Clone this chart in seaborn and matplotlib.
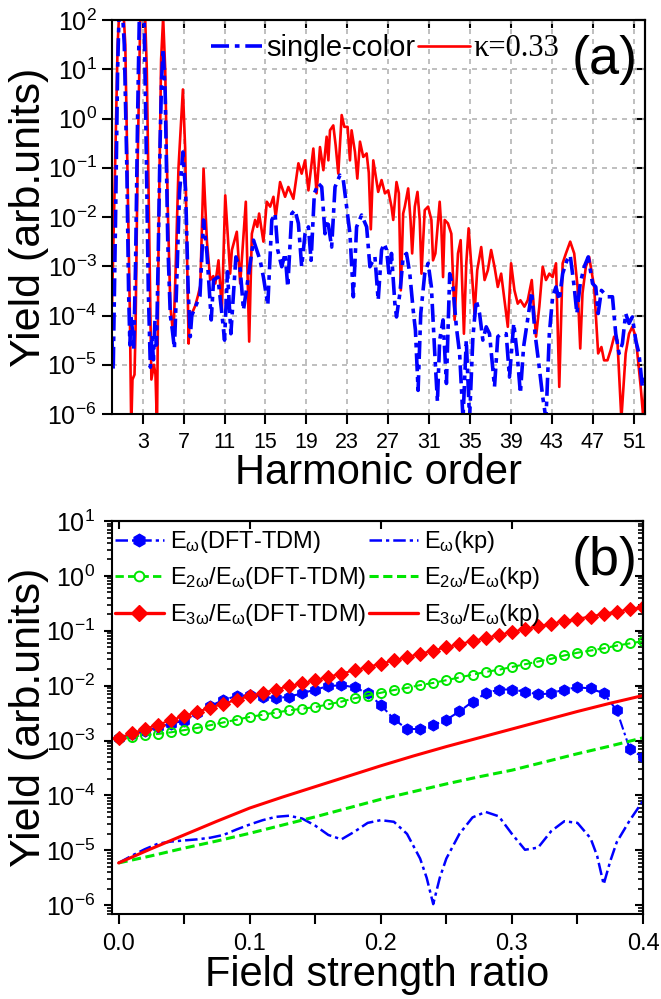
import numpy as np
import matplotlib
matplotlib.use("Agg")
import matplotlib.pyplot as plt
import seaborn as sns
from matplotlib.lines import Line2D
from matplotlib.ticker import LogLocator, NullLocator, NullFormatter, MultipleLocator, FormatStrFormatter

# ---- panel (a): harmonic spectra, (harmonic order, log10 yield)
single_color_pts = [
    (0.0, -4.5), (0.12, -5.1), (0.35, -2.0), (0.55, 1.0), (0.8, 3.0), (1.2, 1.5), (1.45, -1.0),
    (1.62, -3.5), (1.75, -4.6), (1.85, -4.0), (2.0, -4.3), (2.12, -4.7), (2.3, -3.0), (2.5, 0.0),
    (2.75, 3.0), (3.1, 2.5), (3.3, 0.0), (3.55, -3.5), (3.75, -5.05), (3.9, -4.4), (4.05, -4.9),
    (4.2, -4.1), (4.35, -4.6), (4.5, -3.0), (4.7, -0.5), (4.85, 0.8), (5.0, 1.42), (5.2, 0.5),
    (5.45, -2.5), (5.7, -4.0), (5.9, -4.3), (6.1, -4.67), (6.3, -3.5), (6.6, -1.5), (6.93, -0.68),
    (7.2, -1.5), (7.45, -3.5), (7.65, -4.43), (7.8, -4.0), (8.2, -3.8), (8.6, -3.6), (8.95, -2.06),
    (9.28, -2.74), (9.7, -4.09), (9.93, -3.28), (10.35, -3.22), (10.74, -3.96), (11.0, -4.5),
    (11.29, -3.11), (11.62, -4.37), (12.11, -2.81), (12.53, -3.05), (12.85, -3.89), (13.18, -3.42),
    (13.83, -2.47), (14.48, -2.88), (14.8, -3.22), (15.23, -3.79), (15.62, -2.06), (15.94, -1.93),
    (16.2, -2.67), (16.59, -3.01), (16.92, -2.74), (17.18, -3.42), (17.57, -1.93), (17.89, -1.86),
    (18.22, -2.13), (18.54, -3.01), (18.87, -2.34), (19.2, -2.2), (19.46, -2.88), (19.78, -1.52),
    (20.17, -1.32), (20.5, -1.39), (20.82, -2.34), (21.08, -2.06), (21.47, -2.61), (21.8, -1.39),
    (22.28, -1.15), (22.61, -1.25), (22.93, -1.79), (23.26, -2.34), (23.59, -3.62), (23.91, -2.2),
    (24.4, -1.96), (24.89, -2.2), (25.21, -3.01), (25.7, -2.81), (26.02, -3.69), (26.35, -2.67),
    (26.61, -2.54), (26.84, -2.67), (27.1, -3.22), (27.32, -2.74), (27.65, -3.76), (27.81, -4.03),
    (28.14, -3.55), (28.46, -2.81), (28.79, -2.74), (29.11, -3.15), (29.44, -3.89), (29.66, -4.3),
    (29.92, -5.52), (30.18, -3.96), (30.57, -3.15), (30.9, -2.94), (31.22, -3.42), (31.55, -4.77),
    (31.81, -5.75), (32.03, -4.5), (32.36, -4.09), (32.69, -5.38), (33.01, -3.15), (33.33, -3.42),
    (33.66, -4.23), (33.98, -4.77), (34.31, -6.1), (34.63, -4.5), (34.95, -6.1), (35.28, -4.43),
    (35.6, -3.69), (35.93, -3.96), (36.25, -4.5), (36.58, -4.23), (36.9, -4.37), (37.39, -5.45),
    (37.71, -4.43), (38.04, -4.37), (38.53, -4.37), (38.85, -5.25), (39.27, -4.16), (39.6, -4.77),
    (39.92, -5.58), (40.23, -4.64), (40.62, -4.09), (41.03, -3.52), (41.35, -4.37), (41.68, -4.91),
    (42.1, -5.65), (42.42, -6.1), (42.75, -4.37), (43.07, -3.62), (43.4, -3.42), (43.72, -3.69),
    (44.05, -3.15), (44.47, -2.88), (44.79, -2.78), (45.18, -3.42), (45.44, -3.96), (45.77, -3.35),
    (46.16, -3.01), (46.55, -2.81), (46.97, -3.35), (47.29, -3.42), (47.52, -3.96), (47.84, -3.49),
    (48.43, -3.62), (48.92, -3.62), (49.24, -4.37), (49.56, -4.77), (49.89, -4.57), (50.21, -3.96),
    (50.54, -4.16), (50.86, -4.03), (51.19, -4.5), (51.51, -4.77), (51.84, -5.45), (52.13, -5.25),
]

kappa_pts = [
    (0.0, -3.8), (0.3, -1.0), (0.55, 1.5), (0.9, 3.0), (1.3, 1.5), (1.55, -1.5), (1.75, -4.0),
    (1.88, -6.3), (2.0, -5.3), (2.2, -5.2), (2.3, -4.3), (2.5, -1.0), (2.8, 2.5), (3.1, 3.0),
    (3.4, 1.0), (3.65, -2.5), (3.85, -5.3), (4.1, -5.0), (4.25, -5.2), (4.4, -6.3), (4.55, -2.5),
    (4.8, 1.2), (5.0, 2.05), (5.2, 1.0), (5.45, -1.8), (5.7, -3.8), (6.0, -4.43), (6.2, -3.2),
    (6.5, -1.0), (6.93, 0.59), (7.15, -0.6), (7.35, -3.0), (7.49, -4.57), (7.6, -4.0), (7.81, -3.96),
    (8.14, -3.8), (8.4, -3.6), (8.63, -3.4), (8.95, -1.02), (9.28, -2.5), (9.6, -3.28), (9.9, -3.2),
    (10.1, -3.35), (10.41, -2.88), (10.74, -3.89), (11.07, -1.56), (11.35, -2.5), (11.55, -3.15),
    (11.72, -2.67), (12.2, -2.30), (12.53, -3.35), (13.08, -1.69), (13.41, -4.53), (13.67, -2.34),
    (13.99, -2.06), (14.2, -2.2), (14.38, -1.93), (14.8, -2.50), (15.13, -1.69), (15.46, -1.79),
    (15.78, -1.59), (16.0, -2.0), (16.43, -1.29), (16.92, -1.59), (17.24, -1.39), (17.73, -1.63),
    (18.06, -1.15), (18.22, -0.91), (18.54, -1.12), (18.87, -0.85), (19.2, -1.46), (19.68, -0.61),
    (20.0, -1.52), (20.33, -0.58), (20.66, -1.05), (20.98, -0.37), (21.15, -0.85), (21.31, -0.24),
    (21.63, -0.14), (21.86, -0.54), (22.12, -1.12), (22.45, 0.07), (22.71, -0.17), (23.03, -0.17),
    (23.26, -0.85), (23.42, -0.24), (23.75, -0.68), (23.98, -1.22), (24.24, -0.47), (24.56, -0.78),
    (24.89, -0.71), (25.1, -1.1), (25.3, -2.25), (25.54, -0.85), (26.02, -1.49), (26.35, -1.25),
    (26.68, -1.52), (27.0, -1.46), (27.32, -1.79), (27.49, -2.06), (27.81, -1.29), (28.04, -1.52),
    (28.23, -3.49), (28.46, -1.93), (28.62, -1.79), (28.95, -1.42), (29.18, -2.06), (29.34, -2.74),
    (29.6, -1.79), (29.86, -1.49), (30.08, -2.06), (30.25, -3.15), (30.57, -1.86), (30.9, -1.79),
    (31.22, -2.06), (31.38, -2.88), (31.61, -2.74), (32.03, -1.69), (32.19, -2.2), (32.36, -3.22),
    (32.52, -2.06), (32.84, -2.13), (33.17, -2.34), (33.49, -4.09), (33.82, -2.74), (34.08, -2.47),
    (34.4, -4.37), (34.63, -2.94), (34.86, -2.23), (35.18, -3.15), (35.44, -3.96), (35.7, -3.08),
    (36.09, -2.61), (36.42, -3.28), (36.74, -3.08), (37.06, -2.67), (37.39, -3.01), (37.71, -3.42),
    (38.04, -3.15), (38.36, -3.69), (38.69, -4.23), (39.01, -2.94), (39.34, -3.49), (39.66, -3.76),
    (39.92, -3.69), (40.31, -3.82), (40.64, -3.69), (41.03, -3.28), (41.45, -4.43), (41.77, -3.82),
    (42.1, -3.01), (42.42, -3.28), (42.75, -3.15), (43.07, -3.22), (43.4, -2.94), (43.72, -5.45),
    (44.05, -2.94), (44.37, -2.74), (44.79, -2.5), (45.18, -2.74), (45.51, -3.42), (45.77, -4.67),
    (45.99, -3.55), (46.32, -3.01), (46.64, -2.81), (47.13, -3.42), (47.52, -4.77), (47.84, -4.64),
    (48.1, -4.91), (48.43, -4.91), (48.75, -4.7), (49.08, -4.43), (49.4, -4.5), (49.79, -6.1),
    (50.21, -4.77), (50.54, -4.37), (50.86, -4.23), (51.19, -4.43), (51.68, -5.45), (51.94, -6.1),
    (52.13, -5.45),
]

harmonic_ticks = list(range(3, 52, 4))

# ---- panel (b): yields vs field strength ratio (log10 values)
ratio_dft = [round(0.01 * i, 2) for i in range(41)]
e1_dft = [-2.96, -2.88, -2.82, -2.76, -2.69, -2.64, -2.50, -2.37, -2.26, -2.19, -2.17,
          -2.20, -2.23, -2.20, -2.14, -2.07, -2.01, -1.99, -2.03, -2.14, -2.35, -2.61,
          -2.79, -2.79, -2.72, -2.62, -2.47, -2.29, -2.14, -2.07, -2.07, -2.11, -2.16,
          -2.14, -2.07, -2.03, -2.05, -2.14, -2.45, -3.16, -3.30]
e2_dft = [-2.96, -2.93, -2.90, -2.88, -2.85, -2.81, -2.77, -2.72, -2.67, -2.62, -2.57,
          -2.53, -2.49, -2.45, -2.42, -2.39, -2.34, -2.29, -2.23, -2.18, -2.13, -2.08,
          -2.04, -1.99, -1.95, -1.90, -1.85, -1.80, -1.75, -1.71, -1.66, -1.61, -1.56,
          -1.51, -1.45, -1.40, -1.36, -1.32, -1.27, -1.23, -1.19]
e3_dft = [-2.95, -2.87, -2.79, -2.71, -2.63, -2.55, -2.48, -2.40, -2.33, -2.26, -2.19,
          -2.13, -2.07, -2.01, -1.96, -1.90, -1.84, -1.78, -1.72, -1.66, -1.60, -1.54,
          -1.48, -1.42, -1.36, -1.30, -1.24, -1.19, -1.13, -1.08, -1.02, -0.97, -0.92,
          -0.87, -0.83, -0.78, -0.74, -0.69, -0.65, -0.61, -0.57]

ratio_e1_kp = [0.0, 0.01, 0.02, 0.03, 0.04, 0.05, 0.06, 0.07, 0.08, 0.09, 0.10, 0.11, 0.12,
               0.13, 0.14, 0.15, 0.16, 0.17, 0.18, 0.19, 0.20, 0.21, 0.22, 0.23, 0.235, 0.24,
               0.245, 0.25, 0.26, 0.27, 0.28, 0.29, 0.30, 0.31, 0.32, 0.33, 0.34, 0.35, 0.36,
               0.365, 0.37, 0.375, 0.38, 0.39, 0.40]
e1_kp = [-5.23, -5.10, -4.98, -4.88, -4.84, -4.82, -4.80, -4.77, -4.72, -4.62, -4.53, -4.45,
         -4.39, -4.37, -4.42, -4.55, -4.72, -4.80, -4.66, -4.50, -4.45, -4.48, -4.70, -5.15,
         -5.50, -5.98, -5.50, -5.15, -4.70, -4.40, -4.30, -4.38, -4.70, -4.99, -4.95, -4.65,
         -4.47, -4.50, -4.78, -5.10, -5.62, -5.20, -4.85, -4.45, -4.10]
ratio_kp = [0.0, 0.025, 0.05, 0.075, 0.1, 0.125, 0.15, 0.175, 0.2, 0.225, 0.25, 0.275, 0.3,
            0.325, 0.35, 0.375, 0.4]
e2_kp = [-5.23, -5.10, -4.96, -4.83, -4.69, -4.54, -4.39, -4.23, -4.07, -3.93, -3.79, -3.66,
         -3.54, -3.39, -3.24, -3.10, -2.95]
e3_kp = [-5.23, -4.97, -4.72, -4.47, -4.23, -4.03, -3.84, -3.65, -3.46, -3.28, -3.11, -2.95,
         -2.79, -2.63, -2.47, -2.32, -2.18]

BLUE = "#0000ff"
RED = "#ff0000"
GREEN = "#00e600"
DASHDOT = (0, (5, 1.6, 1.3, 1.6))

sns.set_theme(style="ticks")
plt.rcParams["font.family"] = ["Liberation Sans", "DejaVu Sans"]
plt.rcParams["mathtext.fontset"] = "custom"
plt.rcParams["mathtext.rm"] = "Liberation Sans"
plt.rcParams["mathtext.it"] = "Liberation Sans"
plt.rcParams["mathtext.bf"] = "Liberation Sans:bold"
plt.rcParams["axes.linewidth"] = 1.5
for key in ["text.color", "axes.labelcolor", "xtick.color", "ytick.color", "axes.edgecolor"]:
    plt.rcParams[key] = "black"

fig = plt.figure(figsize=(6.61, 9.99), dpi=100)
ax1 = fig.add_axes([112 / 661, 1 - 414 / 999, 533 / 661, 394 / 999])
ax2 = fig.add_axes([112 / 661, 1 - 914 / 999, 531 / 661, 393 / 999])

# ---------------- panel (a)
ax1.set_yscale("log")
kh, ky = zip(*kappa_pts)
sh, sy = zip(*single_color_pts)
sns.lineplot(x=np.array(kh), y=10 ** np.array(ky), ax=ax1, color=RED, lw=1.9,
             sort=False, estimator=None)
sns.lineplot(x=np.array(sh), y=10 ** np.array(sy), ax=ax1, color=BLUE, lw=2.6,
             linestyle=DASHDOT, sort=False, estimator=None)
ax1.set_xlim(0, 52.1)
ax1.set_ylim(1e-6, 1e2)
ax1.set_xticks(harmonic_ticks)
ax1.yaxis.set_major_locator(LogLocator(base=10, numticks=20))
ax1.yaxis.set_minor_locator(NullLocator())
ax1.set_axisbelow(True)
ax1.grid(True, which="major", color="#b4b4b4", linestyle=(0, (3, 3)), lw=1.2)
ax1.tick_params(axis="x", which="major", direction="out", length=7, width=1.5,
                labelsize=15.5, pad=6, top=False)
ax1.tick_params(axis="y", which="major", direction="out", length=7, width=1.5,
                labelsize=18, pad=4, right=False)
ax1.set_xlabel("Harmonic order", fontsize=30, labelpad=0)
ax1.set_ylabel("Yield (arb.units)", fontsize=31)
ax1.yaxis.set_label_coords(-0.118, 0.5)

top1 = ax1.secondary_xaxis("top")
top1.set_xticks(harmonic_ticks)
top1.tick_params(direction="in", length=6, width=1.5, labeltop=False)
right1 = ax1.secondary_yaxis("right")
right1.yaxis.set_major_locator(LogLocator(base=10, numticks=20))
right1.yaxis.set_minor_locator(NullLocator())
right1.tick_params(direction="in", length=7, width=1.5, labelright=False)

leg1 = ax1.legend(handles=[Line2D([], [], color=BLUE, lw=2.6, linestyle=DASHDOT),
                           Line2D([], [], color=RED, lw=1.9)],
                  labels=["single-color", "κ=0.33"], ncol=2, loc="center left",
                  bbox_to_anchor=((211 - 112) / 533, 1 - (49 - 20) / 394),
                  frameon=False, fontsize=21, handlelength=1.75, handletextpad=0.15,
                  columnspacing=0.1, borderpad=0, borderaxespad=0)
leg1.get_texts()[1].set_fontfamily(["Liberation Serif", "DejaVu Serif"])
leg1.get_texts()[1].set_fontsize(22)
ax1.text(0.925, 0.898, "(a)", transform=ax1.transAxes, fontsize=39, ha="center", va="center")

# ---------------- panel (b)
ax2.set_yscale("log")
sns.lineplot(x=ratio_dft, y=10 ** np.array(e1_dft), ax=ax2, color=BLUE, lw=1.5,
             linestyle=DASHDOT, marker="h", markersize=8, markeredgecolor=BLUE,
             markerfacecolor=BLUE, sort=False, estimator=None)
sns.lineplot(x=ratio_e1_kp, y=10 ** np.array(e1_kp), ax=ax2, color=BLUE, lw=1.8,
             linestyle=DASHDOT, sort=False, estimator=None)
sns.lineplot(x=ratio_dft, y=10 ** np.array(e2_dft), ax=ax2, color=GREEN, lw=1.5,
             linestyle=(0, (4, 2)), marker="o", markersize=6.5, markerfacecolor="none",
             markeredgecolor=GREEN, markeredgewidth=1.4, sort=False, estimator=None)
sns.lineplot(x=ratio_kp, y=10 ** np.array(e2_kp), ax=ax2, color=GREEN, lw=2.2,
             linestyle=(0, (3, 1.5)), sort=False, estimator=None)
sns.lineplot(x=ratio_dft, y=10 ** np.array(e3_dft), ax=ax2, color=RED, lw=1.5,
             marker="D", markersize=7, markeredgecolor=RED, markerfacecolor=RED,
             sort=False, estimator=None)
sns.lineplot(x=ratio_kp, y=10 ** np.array(e3_kp), ax=ax2, color=RED, lw=2.2,
             sort=False, estimator=None)
ax2.set_xlim(-0.005, 0.4)
ax2.set_ylim(10 ** -6.16, 10)
ax2.xaxis.set_major_locator(MultipleLocator(0.1))
ax2.xaxis.set_minor_locator(MultipleLocator(0.05))
ax2.xaxis.set_major_formatter(FormatStrFormatter("%.1f"))
ax2.yaxis.set_major_locator(LogLocator(base=10, numticks=20))
ax2.yaxis.set_minor_locator(LogLocator(base=10, subs=np.arange(2, 10), numticks=20))
ax2.yaxis.set_minor_formatter(NullFormatter())
ax2.tick_params(axis="x", which="both", direction="out", length=7, width=1.5,
                labelsize=17, pad=7, top=False)
ax2.tick_params(axis="y", which="major", direction="out", length=6, width=1.5,
                labelsize=18, pad=6, right=False)
ax2.tick_params(axis="y", which="minor", direction="out", length=3.5, width=1.2, right=False)
ax2.set_xlabel("Field strength ratio", fontsize=30, labelpad=0)
ax2.set_ylabel("Yield (arb.units)", fontsize=31)
ax2.yaxis.set_label_coords(-0.118, 0.5)

top2 = ax2.secondary_xaxis("top")
top2.xaxis.set_major_locator(MultipleLocator(0.1))
top2.tick_params(direction="in", length=6, width=1.5, labeltop=False)
right2 = ax2.secondary_yaxis("right")
right2.yaxis.set_major_locator(LogLocator(base=10, numticks=20))
right2.yaxis.set_minor_locator(LogLocator(base=10, subs=np.arange(2, 10), numticks=20))
right2.yaxis.set_minor_formatter(NullFormatter())
right2.tick_params(which="major", direction="in", length=6, width=1.5, labelright=False)
right2.tick_params(which="minor", direction="in", length=3.5, width=1.2)

h_e1d = Line2D([], [], color=BLUE, lw=1.8, linestyle=DASHDOT, marker="h", markersize=9)
h_e2d = Line2D([], [], color=GREEN, lw=2.0, linestyle=(0, (3, 1.5)), marker="o", markersize=7,
               markerfacecolor="white", markeredgecolor=GREEN, markeredgewidth=1.4)
h_e3d = Line2D([], [], color=RED, lw=2.4, marker="D", markersize=8)
h_e1k = Line2D([], [], color=BLUE, lw=1.8, linestyle=DASHDOT)
h_e2k = Line2D([], [], color=GREEN, lw=2.2, linestyle=(0, (3, 1.5)))
h_e3k = Line2D([], [], color=RED, lw=2.4)
labels_b = [r"E$_\omega$(DFT-TDM)", r"E$_{2\omega}$/E$_\omega$(DFT-TDM)",
            r"E$_{3\omega}$/E$_\omega$(DFT-TDM)", r"E$_\omega$(kp)",
            r"E$_{2\omega}$/E$_\omega$(kp)", r"E$_{3\omega}$/E$_\omega$(kp)"]
ax2.legend(handles=[h_e1d, h_e2d, h_e3d, h_e1k, h_e2k, h_e3k], labels=labels_b, ncol=2,
           loc="upper left", bbox_to_anchor=(0.005, 0.98), frameon=False, fontsize=17,
           handlelength=2.1, handletextpad=0.25, columnspacing=0.1, labelspacing=0.45,
           borderpad=0, borderaxespad=0)
ax2.text(0.928, 0.898, "(b)", transform=ax2.transAxes, fontsize=39, ha="center", va="center")

fig.savefig("out.png", dpi=100)
